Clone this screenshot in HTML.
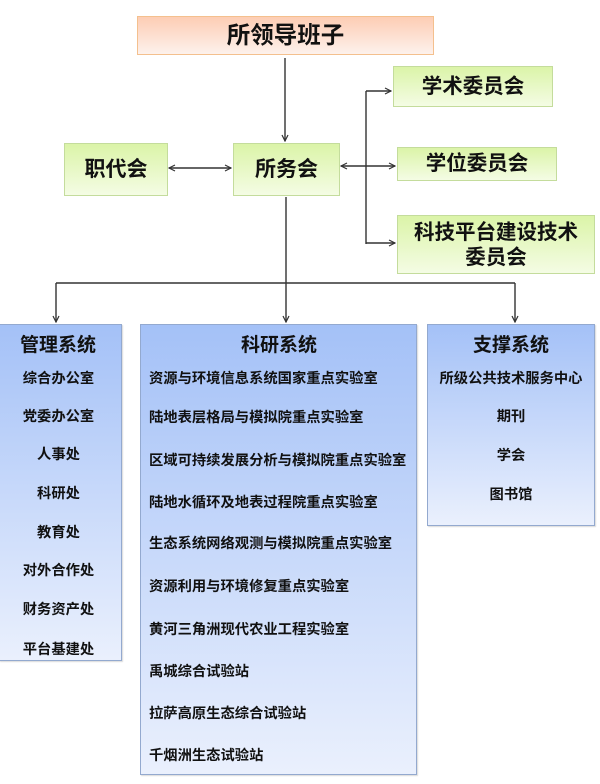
<!DOCTYPE html>
<html><head><meta charset="utf-8">
<style>
html,body{margin:0;padding:0;background:#fff;}
body{width:600px;height:784px;position:relative;overflow:hidden;font-family:"Liberation Sans","Noto Sans CJK SC",sans-serif;font-weight:700;color:#111;}
.b{position:absolute;box-sizing:border-box;}
.top{left:137px;top:16px;width:297px;height:39px;background:linear-gradient(#fdcdb4,#fdf1ec);border:1px solid #f4c08e;font-size:23.5px;text-align:center;line-height:37px;}
.g{background:linear-gradient(#dbf4a8,#f4fce4);border:1px solid #c4dc9c;text-align:center;font-size:20.5px;}
.bl{background:linear-gradient(#a4c1f7,#eaf0fd);border:1px solid #93a9cf;box-shadow:1px 1px 1px rgba(0,0,0,0.15);}
.h{position:absolute;font-size:19px;white-space:nowrap;}
.t{position:absolute;font-size:14.3px;white-space:nowrap;line-height:18px;}
svg{position:absolute;left:0;top:0;}
</style></head><body>
<div class="b top">所领导班子</div>
<div class="b g" style="left:64px;top:143px;width:104px;height:53px;line-height:51px;font-size:21px;">职代会</div>
<div class="b g" style="left:233px;top:143px;width:107px;height:53px;line-height:51px;font-size:21px;">所务会</div>
<div class="b g" style="left:393px;top:66px;width:160px;height:41px;line-height:39px;">学术委员会</div>
<div class="b g" style="left:397px;top:147px;width:160px;height:34px;line-height:32px;">学位委员会</div>
<div class="b g" style="left:397px;top:215px;width:198px;height:59px;line-height:25px;padding-top:4px;">科技平台建设技术<br>委员会</div>

<div class="b bl" style="left:-1px;top:324px;width:123px;height:337px;"></div>
<div class="b bl" style="left:140px;top:324px;width:277px;height:451px;"></div>
<div class="b bl" style="left:427px;top:324px;width:168px;height:202px;"></div>

<div class="h" style="left:20px;top:330px;">管理系统</div>
<div class="h" style="left:241px;top:330px;">科研系统</div>
<div class="h" style="left:473px;top:330px;">支撑系统</div>

<div class="t" style="left:0;width:117px;text-align:center;top:370px;">综合办公室</div>
<div class="t" style="left:0;width:117px;text-align:center;top:408px;">党委办公室</div>
<div class="t" style="left:0;width:117px;text-align:center;top:446px;">人事处</div>
<div class="t" style="left:0;width:117px;text-align:center;top:485px;">科研处</div>
<div class="t" style="left:0;width:117px;text-align:center;top:524px;">教育处</div>
<div class="t" style="left:0;width:117px;text-align:center;top:562px;">对外合作处</div>
<div class="t" style="left:0;width:117px;text-align:center;top:601px;">财务资产处</div>
<div class="t" style="left:0;width:117px;text-align:center;top:641px;">平台基建处</div>

<div class="t" style="left:149px;top:370px;">资源与环境信息系统国家重点实验室</div>
<div class="t" style="left:149px;top:409px;">陆地表层格局与模拟院重点实验室</div>
<div class="t" style="left:149px;top:452px;">区域可持续发展分析与模拟院重点实验室</div>
<div class="t" style="left:149px;top:494px;">陆地水循环及地表过程院重点实验室</div>
<div class="t" style="left:149px;top:535px;">生态系统网络观测与模拟院重点实验室</div>
<div class="t" style="left:149px;top:578px;">资源利用与环境修复重点实验室</div>
<div class="t" style="left:149px;top:621px;">黄河三角洲现代农业工程实验室</div>
<div class="t" style="left:149px;top:663px;">禹城综合试验站</div>
<div class="t" style="left:149px;top:705px;">拉萨高原生态综合试验站</div>
<div class="t" style="left:149px;top:747px;">千烟洲生态试验站</div>

<div class="t" style="left:427px;width:168px;text-align:center;top:370px;">所级公共技术服务中心</div>
<div class="t" style="left:427px;width:168px;text-align:center;top:408px;">期刊</div>
<div class="t" style="left:427px;width:168px;text-align:center;top:447px;">学会</div>
<div class="t" style="left:427px;width:168px;text-align:center;top:486px;">图书馆</div>

<svg width="600" height="784" viewBox="0 0 600 784">
<defs>
<marker id="a" markerWidth="8" markerHeight="8" refX="7" refY="4" orient="auto" markerUnits="userSpaceOnUse">
<path d="M1,1 L7,4 L1,7" fill="none" stroke="#333" stroke-width="1.2"/>
</marker>
<marker id="s" markerWidth="8" markerHeight="8" refX="1" refY="4" orient="auto" markerUnits="userSpaceOnUse">
<path d="M7,1 L1,4 L7,7" fill="none" stroke="#333" stroke-width="1.2"/>
</marker>
</defs>
<g stroke="#333" stroke-width="1.4" fill="none">
<line x1="285" y1="58" x2="285" y2="141" marker-end="url(#a)"/>
<line x1="169" y1="168" x2="231" y2="168" marker-start="url(#s)" marker-end="url(#a)"/>
<line x1="341" y1="166" x2="395" y2="166" marker-start="url(#s)" marker-end="url(#a)"/>
<line x1="366" y1="91" x2="366" y2="244"/>
<line x1="366" y1="91" x2="391" y2="91" marker-end="url(#a)"/>
<line x1="366" y1="243" x2="395" y2="243" marker-end="url(#a)"/>
<line x1="286" y1="197" x2="286" y2="322" marker-end="url(#a)"/>
<line x1="56" y1="283" x2="515" y2="283"/>
<line x1="56" y1="283" x2="56" y2="322" marker-end="url(#a)"/>
<line x1="515" y1="283" x2="515" y2="322" marker-end="url(#a)"/>
</g>
</svg>
</body></html>
